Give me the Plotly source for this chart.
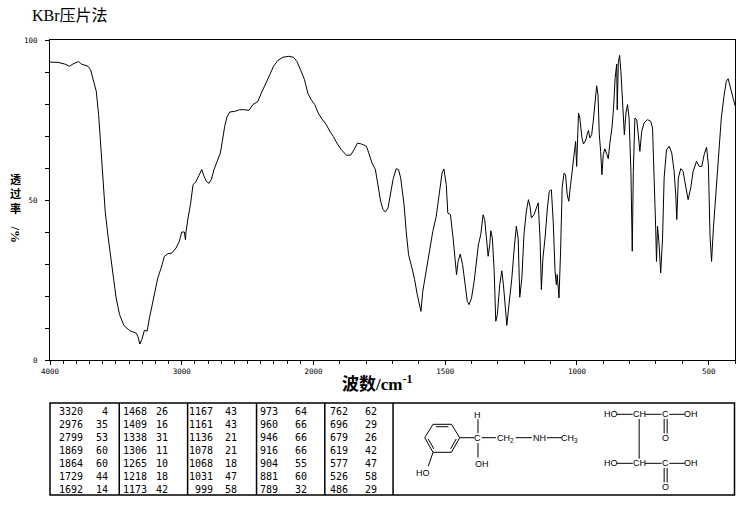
import plotly.graph_objects as go

# IR spectrum: wavenumber (cm-1) and transmittance (%)
wavenumber = [
    4000, 3939, 3889, 3851, 3826, 3783, 3763, 3712, 3692, 3667, 3649, 3631, 3616, 3598,
    3581, 3561, 3540, 3518, 3498, 3472, 3439, 3396, 3346, 3333, 3318, 3303, 3283, 3263,
    3245, 3227, 3202, 3182, 3157, 3131, 3106, 3076, 3043, 3018, 3000, 2980, 2972, 2967,
    2952, 2934, 2914, 2894, 2869, 2848, 2833, 2813, 2793, 2775, 2755, 2733, 2707, 2692,
    2674, 2657, 2636, 2598, 2561, 2523, 2490, 2460, 2422, 2396, 2364, 2333, 2303, 2270,
    2232, 2187, 2152, 2126, 2093, 2068, 2043, 2017, 1995, 1982, 1970, 1951, 1938, 1925,
    1909, 1894, 1875, 1859, 1846, 1833, 1818, 1799, 1790, 1778, 1765, 1755, 1745, 1736,
    1727, 1717, 1707, 1698, 1686, 1677, 1669, 1656, 1648, 1639, 1626, 1616, 1606, 1597,
    1592, 1585, 1572, 1559, 1547, 1534, 1524, 1512, 1505, 1496, 1490, 1480, 1470, 1462,
    1457, 1451, 1443, 1434, 1425, 1416, 1409, 1400, 1390, 1381, 1374, 1365, 1356, 1350,
    1344, 1337, 1331, 1327, 1321, 1314, 1308, 1302, 1293, 1285, 1279, 1274, 1266, 1258,
    1247, 1239, 1230, 1223, 1217, 1209, 1201, 1192, 1184, 1178, 1173, 1163, 1153, 1147,
    1140, 1135, 1129, 1121, 1112, 1105, 1097, 1090, 1083, 1078, 1075, 1068, 1062, 1056,
    1049, 1043, 1037, 1031, 1024, 1014, 1005, 1001, 997, 994, 989, 981, 975, 966,
    960, 956, 951, 944, 938, 930, 925, 920, 915, 910, 905, 900, 894, 886,
    881, 875, 867, 861, 855, 849, 847, 843, 838, 833, 827, 820, 814, 808,
    802, 795, 790, 786, 780, 773, 767, 761, 754, 745, 732, 720, 713, 707,
    701, 698, 694, 688, 682, 675, 669, 660, 650, 640, 631, 625, 621, 615,
    606, 597, 587, 578, 568, 559, 546, 536, 526, 517, 508, 501, 495, 489,
    482, 473, 463, 452, 442, 433, 426, 417, 410, 404, 400,
]
transmittance = [
    93.1, 93.0, 92.5, 91.8, 92.5, 93.3, 92.5, 91.8, 90.7, 87.1, 84.0, 76.7, 67.3, 56.9,
    46.5, 39.2, 31.9, 25.6, 19.4, 14.2, 10.8, 9.2, 8.4, 7.4, 5.0, 6.4, 9.3, 9.0,
    13.1, 16.8, 21.5, 25.6, 28.7, 32.4, 33.2, 33.4, 35.0, 37.1, 40.0, 40.0, 37.6, 40.2,
    44.4, 48.5, 54.8, 55.6, 57.7, 59.5, 57.7, 55.8, 55.2, 56.4, 59.5, 62.1, 64.7, 68.3,
    73.0, 75.9, 77.5, 77.7, 78.2, 78.2, 78.0, 79.8, 80.8, 83.4, 86.0, 89.0, 91.8, 93.6,
    94.6, 94.9, 94.6, 93.3, 90.2, 87.6, 83.4, 81.3, 79.8, 77.2, 75.6, 73.5, 71.5, 69.9,
    67.5, 65.7, 64.0, 64.0, 65.7, 67.8, 67.5, 66.8, 64.7, 61.6, 59.5, 54.8, 49.6, 47.0,
    46.3, 47.5, 51.7, 56.4, 59.8, 59.5, 56.9, 48.5, 40.2, 32.9, 28.7, 25.1, 20.4, 16.8,
    15.2, 21.5, 27.7, 34.0, 40.2, 44.9, 51.7, 58.4, 59.7, 54.8, 45.9, 45.4, 38.1, 29.3,
    26.7, 30.8, 33.1, 29.8, 23.5, 18.3, 17.3, 19.4, 24.6, 30.8, 36.0, 39.2, 45.4, 43.9,
    38.1, 32.4, 36.0, 40.4, 38.1, 27.7, 12.1, 14.2, 23.5, 27.9, 23.5, 19.4, 10.8, 17.3,
    25.6, 34.0, 41.8, 38.1, 19.6, 25.6, 39.2, 46.5, 50.1, 48.0, 44.4, 45.4, 47.5, 49.1,
    38.1, 22.0, 31.9, 38.1, 47.5, 52.7, 53.2, 43.3, 27.7, 23.5, 26.7, 19.4, 34.0, 53.8,
    58.4, 57.9, 51.7, 49.6, 54.8, 63.1, 68.3, 60.5, 71.5, 77.2, 75.6, 69.4, 67.5, 68.8,
    70.9, 71.7, 69.4, 70.4, 74.6, 81.9, 85.7, 82.9, 70.4, 65.2, 57.9, 64.2, 66.0, 64.2,
    62.9, 67.8, 72.5, 78.7, 88.1, 92.5, 78.2, 92.8, 95.2, 90.2, 78.7, 70.4, 77.2, 79.8,
    75.6, 58.9, 34.0, 58.9, 75.6, 75.1, 70.4, 65.2, 71.5, 74.1, 75.1, 74.6, 72.5, 58.9,
    41.2, 30.8, 41.8, 36.0, 27.2, 38.1, 56.9, 65.7, 66.8, 64.7, 58.9, 51.7, 43.9, 56.9,
    59.8, 58.9, 54.8, 50.1, 53.8, 58.9, 62.1, 60.5, 60.5, 64.2, 66.5, 61.0, 39.2, 30.8,
    41.2, 51.7, 64.2, 75.6, 82.3, 87.1, 87.9, 85.0, 81.9, 80.3, 79.5,
]

# peak table, one list per column of the printed table
peak_wavenumbers = [
    [3320, 2976, 2799, 1869, 1864, 1729, 1692],
    [1468, 1409, 1338, 1306, 1265, 1218, 1173],
    [1167, 1161, 1136, 1078, 1068, 1031, 999],
    [973, 960, 946, 916, 904, 881, 789],
    [762, 696, 679, 619, 577, 526, 486],
]
peak_transmittance = [
    [4, 35, 53, 60, 60, 44, 14],
    [26, 16, 31, 11, 10, 18, 42],
    [43, 43, 21, 21, 18, 47, 58],
    [64, 66, 66, 66, 55, 60, 32],
    [62, 29, 26, 42, 47, 58, 29],
]

x_ticks = [4000, 3000, 2000, 1500, 1000, 500]
y_ticks = [0, 50, 100]

FONT_CJK = "Liberation Serif, Noto Sans CJK SC"
FONT_TICK = "DejaVu Sans Mono"
FONT_CHEM = "Liberation Sans"


def to_axis(wn):
    # the chart doubles its scale below 2000 cm-1
    if wn >= 2000:
        return (4000 - wn) / 2
    return 1000 + (2000 - wn)


# pixel -> paper helpers (plot box is 50..735.5 x 40..360 px)
def px(x):
    return (x - 50) / 685.5


def py(y):
    return (360 - y) / 320


def seg(x0, y0, x1, y1, width=1):
    return dict(type="line", xref="paper", yref="paper",
                x0=px(x0), y0=py(y0), x1=px(x1), y1=py(y1),
                line=dict(color="black", width=width))


def label(text, x, y, size=9, family=FONT_CHEM, xanchor="center", angle=0):
    return dict(text=text, x=px(x), y=py(y), xref="paper", yref="paper",
                xanchor=xanchor, yanchor="middle", showarrow=False, textangle=angle,
                font=dict(size=size, family=family, color="black"), borderpad=0)


def inner_bond(p, q, c, off=2.4, trim=0.16):
    a = (p[0] + (q[0] - p[0]) * trim, p[1] + (q[1] - p[1]) * trim)
    b = (p[0] + (q[0] - p[0]) * (1 - trim), p[1] + (q[1] - p[1]) * (1 - trim))
    mx, my = (p[0] + q[0]) / 2, (p[1] + q[1]) / 2
    dx, dy = c[0] - mx, c[1] - my
    n = (dx * dx + dy * dy) ** 0.5
    ox, oy = dx / n * off, dy / n * off
    return seg(a[0] + ox, a[1] + oy, b[0] + ox, b[1] + oy)


fig = go.Figure()
fig.add_trace(go.Scatter(
    x=[to_axis(w) for w in wavenumber],
    y=transmittance,
    mode="lines",
    line=dict(color="black", width=1),
    hoverinfo="skip",
))

shapes = []
annotations = []

# table frame and column rules
shapes.append(dict(type="rect", xref="paper", yref="paper",
                   x0=px(50), y0=py(403), x1=px(735), y1=py(495),
                   line=dict(color="black", width=1.5)))
for xd in [119.3, 187.7, 256.7, 325, 393.3]:
    shapes.append(seg(xd, 403, xd, 495, 1.5))

num_right = [83, 147, 213, 278, 348]
val_right = [108, 168, 237, 307, 377]
for c, col in enumerate(peak_wavenumbers):
    for r, wn in enumerate(col):
        yy = 411 + 13 * r
        annotations.append(label(str(wn), num_right[c] + 1, yy, 10, FONT_TICK, "right"))
        annotations.append(label(str(peak_transmittance[c][r]), val_right[c] + 1, yy, 10,
                                 FONT_TICK, "right"))

# phenylephrine structure
ring = [(433.3, 424.3), (451.7, 424.3), (460, 437.7), (451.7, 452.3), (433.3, 452.3), (425, 437.7)]
ring_c = (442.5, 438.3)
for i in range(6):
    p, q = ring[i], ring[(i + 1) % 6]
    shapes.append(seg(p[0], p[1], q[0], q[1]))
for i in [0, 2, 4]:
    shapes.append(inner_bond(ring[i], ring[(i + 1) % 6], ring_c))
shapes += [
    seg(433.3, 452.3, 428.6, 466.2),
    seg(460, 437.7, 474.8, 437.7),
    seg(478.3, 419.2, 478.3, 433.2),
    seg(478.3, 443.0, 478.3, 457.6),
    seg(482.0, 437.7, 496.2, 437.7),
    seg(516.0, 437.7, 532.2, 437.7),
    seg(547.4, 437.7, 562.2, 437.7),
]
annotations += [
    label("HO", 423, 472.5),
    label("H", 478.3, 414.5),
    label("C", 478.3, 438),
    label("OH", 482.8, 463.5),
    label("CH<sub>2</sub>", 506, 438.5),
    label("NH", 540, 438),
    label("CH<sub>3</sub>", 570, 438.5),
]

# tartaric acid
for yr in [414.3, 463.3]:
    shapes += [
        seg(616.8, yr, 633.2, yr),
        seg(645.6, yr, 662.0, yr),
        seg(669.8, yr, 685.2, yr),
        seg(664.6, yr + 4.6, 664.6, yr + 19.2),
        seg(667.6, yr + 4.6, 667.6, yr + 19.2),
    ]
    annotations += [
        label("HO", 611.3, yr),
        label("CH", 640, yr),
        label("C", 666, yr),
        label("OH", 691.7, yr),
        label("O", 666, yr + 24),
    ]
shapes.append(seg(639.6, 419.0, 639.6, 458.6))

# titles
annotations.append(label("KBr压片法", 31, 15, 16, FONT_CJK, "left"))
annotations.append(label("<b>波数/cm<sup>-1</sup></b>", 377, 383, 17, FONT_CJK))
annotations.append(label("<b>透<br>过<br>率</b>", 15, 193, 11, "Noto Sans CJK SC"))
annotations.append(label("<b>/%</b>", 15, 234.5, 13, "Liberation Serif", angle=90))

fig.update_layout(
    width=737,
    height=510,
    margin=dict(l=50, r=2, t=40, b=150),
    paper_bgcolor="white",
    plot_bgcolor="white",
    showlegend=False,
    shapes=shapes,
    annotations=annotations,
    xaxis=dict(
        range=[0, to_axis(400)],
        showline=True, linecolor="black", linewidth=1, mirror=True,
        showgrid=False, zeroline=False,
        ticks="outside", ticklen=4, tickcolor="black", tickwidth=1,
        tickvals=[to_axis(v) for v in x_ticks],
        ticktext=[str(v) for v in x_ticks],
        tickfont=dict(size=7.5, family=FONT_TICK, color="black"),
        minor=dict(tickvals=[to_axis(v) for v in range(4000, 399, -100)],
                   ticks="outside", ticklen=3, tickcolor="black"),
    ),
    yaxis=dict(
        range=[0, 100],
        showline=True, linecolor="black", linewidth=1, mirror=True,
        showgrid=False, zeroline=False,
        ticks="outside", ticklen=4, tickcolor="black", tickwidth=1,
        tickvals=y_ticks,
        ticktext=[str(v) for v in y_ticks],
        tickfont=dict(size=7.5, family=FONT_TICK, color="black"),
        ticklabelstandoff=6,
        minor=dict(tickvals=list(range(0, 101, 10)), ticks="outside", ticklen=4,
                   tickcolor="black"),
    ),
)

# the page body has a default 8px margin; drop it so the figure sits at 0,0
fig.write_html("out.html", config={"displayModeBar": False},
               post_script="document.body.style.margin='0';")
